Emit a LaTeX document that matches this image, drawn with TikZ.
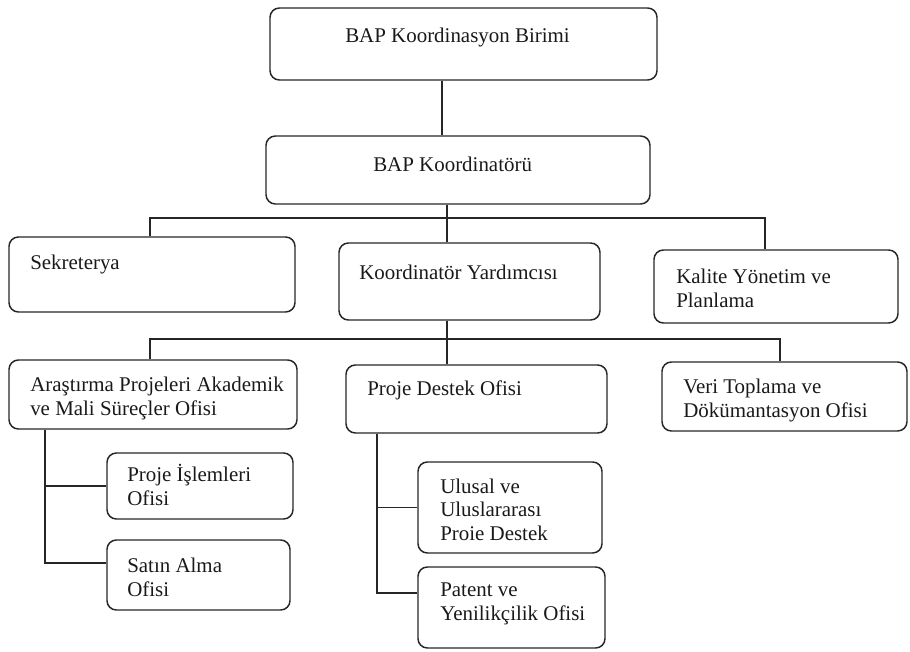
\documentclass[tikz,border=0pt]{standalone}
\usepackage{fontspec}
\setmainfont{Liberation Serif}
\usetikzlibrary{fit}
\begin{document}
\begin{tikzpicture}[x=0.75pt,y=-0.75pt,
  box/.style={draw=black!85, line width=1.1pt, rounded corners=7pt, inner sep=0pt},
  lbl/.style={font=\fontsize{15.7}{17.6}\selectfont, inner sep=0pt, align=left, anchor=base west, text=black!90},
  conn/.style={draw=black!85, line width=1.1pt}]
\useasboundingbox (0,0) rectangle (910,652);
% boxes
\node[box, fit={(270,8) (657,80)}] (top) {};
\node[box, fit={(266,136) (650,204)}] (koord) {};
\node[box, fit={(9,237) (295,312)}] (sek) {};
\node[box, fit={(339,243) (600,320)}] (yard) {};
\node[box, fit={(654,250) (898,323)}] (kal) {};
\node[box, fit={(9,360) (297,429)}] (ara) {};
\node[box, fit={(346,365) (607,433)}] (pd) {};
\node[box, fit={(662,362) (907,431)}] (veri) {};
\node[box, fit={(107,453) (293,519)}] (isl) {};
\node[box, fit={(107,540) (290,610)}] (sat) {};
\node[box, fit={(418,462) (602,553)}] (ul) {};
\node[box, fit={(418,567) (605,648)}] (pat) {};
% labels (anchor = baseline of the last line)
\node[lbl] (topT) at (345,43) {BAP Koordinasyon Birimi};
\node[lbl] (koordT) at (373,172) {BAP Koordinatörü};
\node[lbl] (sekT) at (30,270) {Sekreterya};
\node[lbl] (yardT) at (359,280) {Koordinatör Yardımcısı};
\node[lbl] (kalT) at (676,307) {Kalite Yönetim ve\\Planlama};
\node[lbl] (araT) at (30,415) {Araştırma Projeleri Akademik\\ve Mali Süreçler Ofisi};
\node[lbl] (pdT) at (367,395) {Proje Destek Ofisi};
\node[lbl] (veriT) at (683,417) {Veri Toplama ve\\Dökümantasyon Ofisi};
\node[lbl] (islT) at (127,505) {Proje İşlemleri\\Ofisi};
\node[lbl] (satT) at (127,596) {Satın Alma\\Ofisi};
\node[lbl] (ulT) at (440,540) {Ulusal ve\\Uluslararası\\Proie Destek};
\node[lbl] (patT) at (440,620) {Patent ve\\Yenilikçilik Ofisi};
% helper coordinates
\coordinate (v1) at (442,0);
\coordinate (s1) at (150,0);
\coordinate (s2) at (447,0);
\coordinate (s3) at (765,0);
\coordinate (u3) at (780,0);
\coordinate (bus1) at (0,218);
\coordinate (bus2) at (0,339);
\coordinate (t1) at (45,563);
\coordinate (t2) at (377,593);
% connectors
\draw[conn] (top.south -| v1) -- (koord.north -| v1);
\draw[conn] (koord.south -| s2) -- (yard.north -| s2);
\draw[conn] (sek.north -| s1) -- (s1 |- bus1) -- (s3 |- bus1) -- (kal.north -| s3);
\draw[conn] (yard.south -| s2) -- (pd.north -| s2);
\draw[conn] (ara.north -| s1) -- (s1 |- bus2) -- (u3 |- bus2) -- (veri.north -| u3);
\draw[conn] (ara.south -| t1) -- (t1) -- (sat.west |- t1);
\draw[conn] (t1 |- isl.west) -- (isl.west);
\draw[conn] (pd.south -| t2) -- (t2) -- (pat.west |- t2);
\draw[conn] (t2 |- ul.west) -- (ul.west);
\end{tikzpicture}
\end{document}
